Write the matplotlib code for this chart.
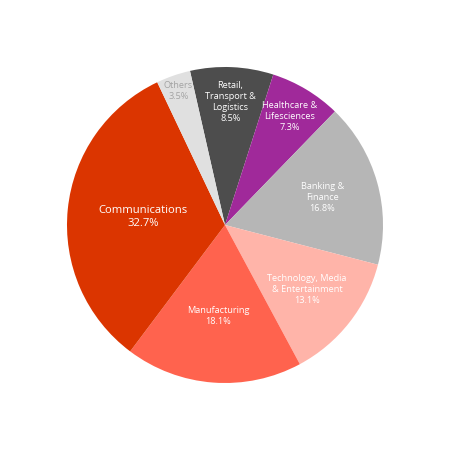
import numpy as np
import matplotlib.pyplot as plt

plt.rcParams['font.family'] = ['Open Sans', 'DejaVu Sans']

# Sector shares (%), in clockwise order from the top
sectores = ['Retail,\nTransport &\nLogistics', 'Healthcare &\nLifesciences',
            'Banking &\nFinance', 'Technology, Media\n& Entertainment',
            'Manufacturing', 'Communications', 'Others']
valores = [8.5, 7.3, 16.8, 13.1, 18.1, 32.7, 3.5]
colores = ['#4d4d4d', '#a0299a', '#b6b6b6', '#ffb4a9',
           '#ff634e', '#db3500', '#e0e0e0']
color_texto = ['white', 'white', 'white', 'white', 'white', 'white', '#a3a3a3']
tam_texto = [6.6, 6.6, 6.6, 6.6, 6.6, 8.1, 6.6]
dist_etiqueta = [0.78, 0.80, 0.64, 0.66, 0.58, 0.52, 0.90]

fig = plt.figure(figsize=(4.5, 4.5), dpi=100)
ax = fig.add_axes([0, 0, 1, 1])

cunas, _ = ax.pie(valores, colors=colores, startangle=102.8, counterclock=False,
                  radius=1.0, wedgeprops=dict(linewidth=0))

# Etiquetas en el angulo medio de cada cuña
for cuna, nombre, v, d, c, s in zip(cunas, sectores, valores, dist_etiqueta,
                                    color_texto, tam_texto):
    ang = np.deg2rad((cuna.theta1 + cuna.theta2) / 2)
    ax.text(d * np.cos(ang), d * np.sin(ang), f'{nombre}\n{v:.1f}%',
            ha='center', va='center', color=c, fontsize=s, linespacing=1.3)

ax.set_xlim(-1.424, 1.424)
ax.set_ylim(-1.424, 1.424)
ax.set_aspect('equal')
ax.axis('off')

fig.savefig('out.png', dpi=100, facecolor='white')
